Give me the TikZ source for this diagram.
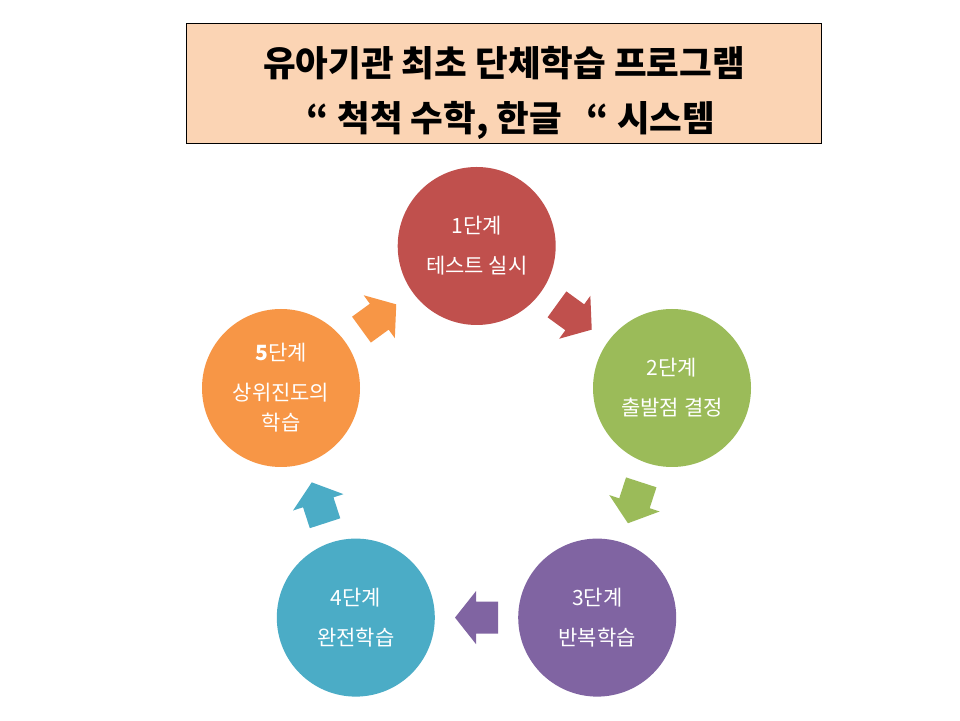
\documentclass[tikz,border=0pt]{standalone}
\usepackage{fontspec}
\setmainfont{Noto Sans CJK KR}
\usetikzlibrary{calc}
\definecolor{peach}{HTML}{FBD4B4}
\definecolor{cred}{HTML}{C0504D}
\definecolor{cgreen}{HTML}{9BBB59}
\definecolor{cpurple}{HTML}{8064A2}
\definecolor{cteal}{HTML}{4BACC6}
\definecolor{corange}{HTML}{F79646}
\tikzset{
  stage/.style={circle, minimum size=158pt, inner sep=0pt, text=white,
    font=\fontsize{21}{30}\selectfont, align=center},
  titletext/.style={font=\bfseries\fontsize{35.5}{36}\selectfont, inner sep=0pt},
  blockarrow/.pic={\fill[#1] (-21.5,-16) -- (0.5,-16) -- (0.5,-26.5) -- (21.5,0)
      -- (0.5,26.5) -- (0.5,16) -- (-21.5,16) -- cycle;}
}
\begin{document}
\begin{tikzpicture}[x=1pt,y=1pt]
\useasboundingbox (0,0) rectangle (960,720);
\fill[white] (0,0) rectangle (960,720);
\node[draw=black, line width=0.75pt, fill=peach, minimum width=635pt,
  minimum height=120pt, inner sep=0pt] (title) at (503.5,637) {};
\node[titletext] (t1) at (504,657) {유아기관 최초 단체학습 프로그램};
\node[titletext] (t2) at (511,600) {“ 척척 수학, 한글 \ \ “ 시스템};
\node[stage, fill=cred] (s1) at (476.7,474) {1단계\\[10pt]테스트 실시};
\node[stage, fill=cgreen] (s2) at (672,332) {2단계\\[10pt]출발점 결정};
\node[stage, fill=cpurple] (s3) at (597.2,102.4) {3단계\\[10pt]반복학습};
\node[stage, fill=cteal] (s4) at (355.8,102.4) {4단계\\[10pt]완전학습};
\node[stage, fill=corange] (s5) at (281,332) {{\bfseries 5}단계\\[10pt]상위진도의\\학습};
\path ($(s1)!0.5!(s2)$) pic[rotate=-36] {blockarrow=cred};
\path ($(s2)!0.5!(s3)$) pic[rotate=-108] {blockarrow=cgreen};
\path ($(s3)!0.5!(s4)$) pic[rotate=180] {blockarrow=cpurple};
\path ($(s4)!0.5!(s5)$) pic[rotate=108] {blockarrow=cteal};
\path ($(s5)!0.5!(s1)$) pic[rotate=36] {blockarrow=corange};
\end{tikzpicture}
\end{document}
